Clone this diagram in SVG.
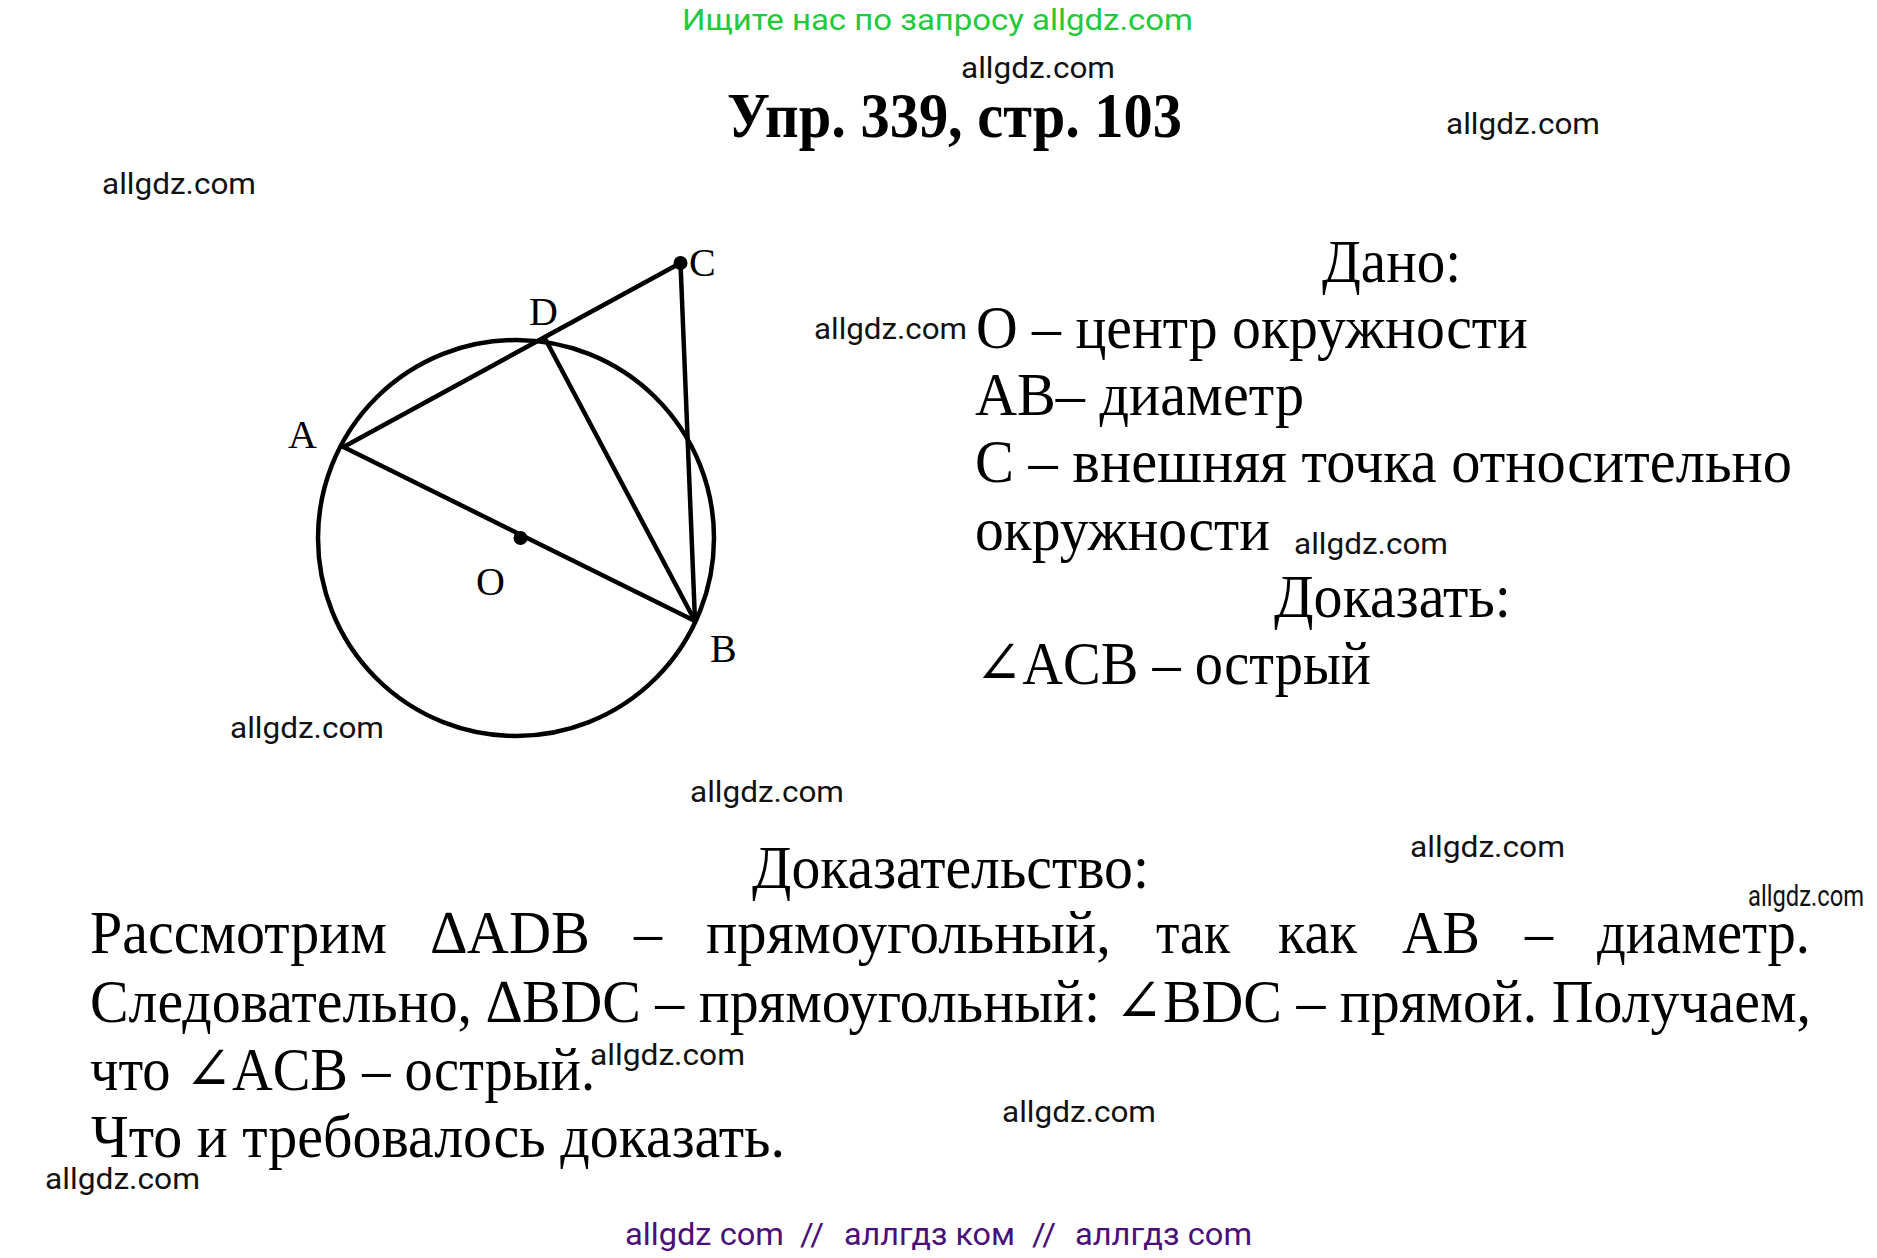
<svg xmlns="http://www.w3.org/2000/svg" width="1877" height="1258" viewBox="0 0 1877 1258">
<style>
.wm{font-family:Roboto,"Liberation Sans",sans-serif;font-size:29px;fill:#111}
.ser{font-family:"Liberation Serif","DejaVu Serif",serif;font-size:61px;fill:#000}
.lbl{font-family:"Liberation Serif","DejaVu Serif",serif;font-size:40px;fill:#000}
.ln{stroke:#000;stroke-width:4.5;fill:none;stroke-linecap:round}
.pt{fill:#000}
.pur{font-family:Roboto,"Liberation Sans",sans-serif;font-size:31px;fill:#4a0f78}
</style>
<rect width="1877" height="1258" fill="#fff"/>
<text x="682" y="30" font-family="Roboto,'Liberation Sans',sans-serif" font-size="29" fill="#22c93a" textLength="511" lengthAdjust="spacingAndGlyphs">Ищите нас по запросу allgdz.com</text>
<text x="727" y="137" font-family="'Liberation Serif','DejaVu Serif',serif" font-size="63" font-weight="bold" textLength="455" lengthAdjust="spacingAndGlyphs">Упр. 339, стр. 103</text>

<g id="circle"><circle class="ln" cx="516" cy="538" r="198"/></g>
<g id="connectors">
<line class="ln" x1="343.5" y1="447" x2="680.5" y2="263"/>
<line class="ln" x1="343.5" y1="447" x2="695" y2="621"/>
<line class="ln" x1="545" y1="338.5" x2="695" y2="621"/>
<line class="ln" x1="680.5" y1="263" x2="695" y2="621"/>
</g>
<g id="node-A"><text class="lbl" x="288" y="448">A</text></g>
<g id="node-D"><text class="lbl" x="529" y="325">D</text></g>
<g id="node-C"><circle class="pt" cx="680.5" cy="263" r="7"/><text class="lbl" x="689" y="276">C</text></g>
<g id="node-O"><circle class="pt" cx="520.5" cy="538" r="7"/><text class="lbl" x="476" y="595">O</text></g>
<g id="node-B"><text class="lbl" x="710" y="662">B</text></g>

<g id="given">
<text class="ser" x="1322" y="282" textLength="139" lengthAdjust="spacingAndGlyphs">Дано:</text>
<text class="ser" x="976" y="348" textLength="552" lengthAdjust="spacingAndGlyphs">O – центр окружности</text>
<text class="ser" x="975" y="415" textLength="329" lengthAdjust="spacingAndGlyphs">AB– диаметр</text>
<text class="ser" x="975" y="482" textLength="817" lengthAdjust="spacingAndGlyphs">C – внешняя точка относительно</text>
<text class="ser" x="975" y="550" textLength="295" lengthAdjust="spacingAndGlyphs">окружности</text>
<text class="ser" x="1274" y="617" textLength="237" lengthAdjust="spacingAndGlyphs">Доказать:</text>
<text class="ser" x="975" y="684" textLength="396" lengthAdjust="spacingAndGlyphs">∠ACB – острый</text>
</g>

<g id="proof">
<text class="ser" x="752" y="888" textLength="397" lengthAdjust="spacingAndGlyphs">Доказательство:</text>
<text class="ser" x="90" y="953" textLength="297" lengthAdjust="spacingAndGlyphs">Рассмотрим</text>
<text class="ser" x="431" y="953" textLength="159" lengthAdjust="spacingAndGlyphs">∆ADB</text>
<text class="ser" x="634" y="953" textLength="28" lengthAdjust="spacingAndGlyphs">–</text>
<text class="ser" x="706" y="953" textLength="405" lengthAdjust="spacingAndGlyphs">прямоугольный,</text>
<text class="ser" x="1156" y="953" textLength="74" lengthAdjust="spacingAndGlyphs">так</text>
<text class="ser" x="1278" y="953" textLength="79" lengthAdjust="spacingAndGlyphs">как</text>
<text class="ser" x="1402" y="953" textLength="78" lengthAdjust="spacingAndGlyphs">AB</text>
<text class="ser" x="1525" y="953" textLength="28" lengthAdjust="spacingAndGlyphs">–</text>
<text class="ser" x="1597" y="953" textLength="213" lengthAdjust="spacingAndGlyphs">диаметр.</text>
<text class="ser" x="90" y="1022" textLength="1721" lengthAdjust="spacingAndGlyphs">Следовательно, ∆BDC – прямоугольный: ∠BDC – прямой. Получаем,</text>
<text class="ser" x="90" y="1090" textLength="505" lengthAdjust="spacingAndGlyphs">что ∠ACB – острый.</text>
<text class="ser" x="91" y="1157" textLength="694" lengthAdjust="spacingAndGlyphs">Что и требовалось доказать.</text>
</g>

<g id="watermarks">
<text class="wm" x="961" y="78" textLength="154" lengthAdjust="spacingAndGlyphs">allgdz.com</text>
<text class="wm" x="1446" y="134" textLength="154" lengthAdjust="spacingAndGlyphs">allgdz.com</text>
<text class="wm" x="102" y="194" textLength="154" lengthAdjust="spacingAndGlyphs">allgdz.com</text>
<text class="wm" x="814" y="339" textLength="153" lengthAdjust="spacingAndGlyphs">allgdz.com</text>
<text class="wm" x="1294" y="554" textLength="154" lengthAdjust="spacingAndGlyphs">allgdz.com</text>
<text class="wm" x="230" y="738" textLength="154" lengthAdjust="spacingAndGlyphs">allgdz.com</text>
<text class="wm" x="690" y="802" textLength="154" lengthAdjust="spacingAndGlyphs">allgdz.com</text>
<text class="wm" x="1410" y="857" textLength="155" lengthAdjust="spacingAndGlyphs">allgdz.com</text>
<text class="wm" x="1748" y="906" font-size="22" textLength="116" lengthAdjust="spacingAndGlyphs">allgdz.com</text>
<text class="wm" x="590" y="1065" textLength="155" lengthAdjust="spacingAndGlyphs">allgdz.com</text>
<text class="wm" x="1002" y="1122" textLength="154" lengthAdjust="spacingAndGlyphs">allgdz.com</text>
<text class="wm" x="45" y="1189" textLength="155" lengthAdjust="spacingAndGlyphs">allgdz.com</text>
</g>

<g id="footer">
<text class="pur" x="625" y="1245" textLength="159" lengthAdjust="spacingAndGlyphs">allgdz com</text>
<text class="pur" x="800" y="1245" textLength="24" lengthAdjust="spacingAndGlyphs">//</text>
<text class="pur" x="844" y="1245" textLength="171" lengthAdjust="spacingAndGlyphs">аллгдз ком</text>
<text class="pur" x="1032" y="1245" textLength="24" lengthAdjust="spacingAndGlyphs">//</text>
<text class="pur" x="1075" y="1245" textLength="177" lengthAdjust="spacingAndGlyphs">аллгдз com</text>
</g>
</svg>
